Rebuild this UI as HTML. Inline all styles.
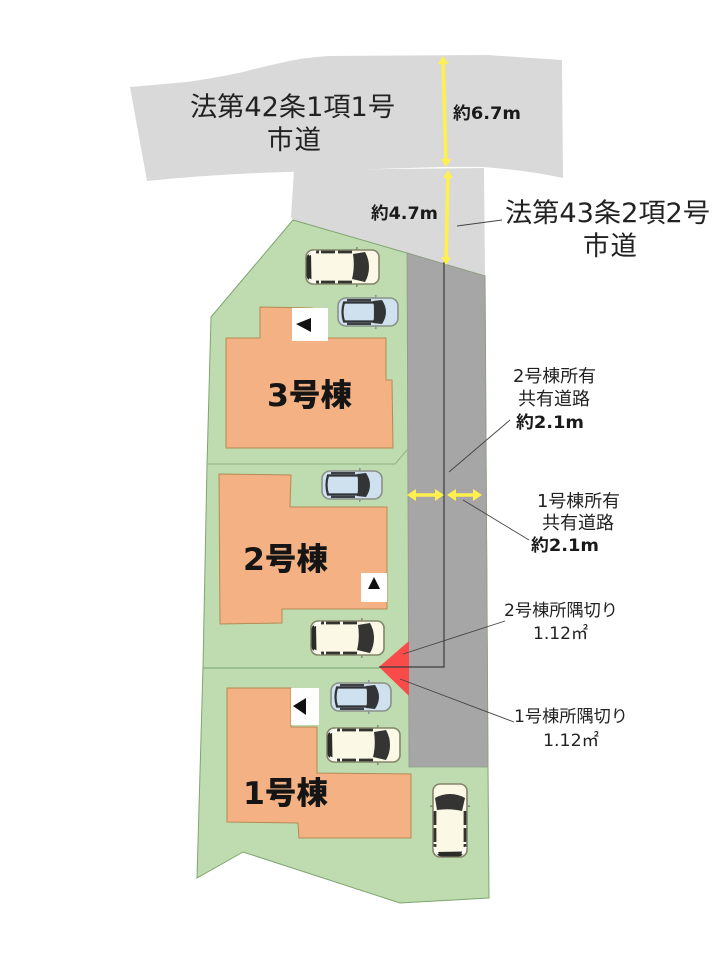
<!DOCTYPE html>
<html lang="ja">
<head>
<meta charset="utf-8">
<title>区画図</title>
<style>
html,body{margin:0;padding:0;background:#fff}
svg{display:block}
text{font-family:"DejaVu Sans","Noto Sans CJK JP",sans-serif;fill:#222}
.b{font-weight:700;fill:#1a1a1a}
.bl{font-weight:900;fill:#151515}
</style>
</head>
<body>
<svg width="719" height="959" viewBox="0 0 719 959" xmlns="http://www.w3.org/2000/svg">
<defs>
<g id="wcar">
  <rect x="51" y="-2" width="1.6" height="40" fill="#8a8a78"/>
  <rect x="1" y="1" width="73" height="34" rx="7" fill="#fbf8e6" stroke="#84846c" stroke-width="1.6"/>
  <path d="M1.5 9Q2 5 6 4L6.5 32Q2 31 1.5 27Z" fill="#2b2b28"/>
  <path d="M48 5L60 3Q64 10 64 18Q64 26 60 33L47 30Q50 18 48 5Z" fill="#343432"/>
  <path d="M11 1.6H14V4.4H11ZM16 1.6H30V4.4H16ZM33 1.6H47V4.4H33ZM11 31.6H14V34.4H11ZM16 31.6H30V34.4H16ZM33 31.6H47V34.4H33Z" fill="#33332f"/>
  <path d="M4 6L11 2M4 30L11 34" stroke="#fff" stroke-width="1.8"/>
</g>
<g id="bcar">
  <rect x="38" y="-2" width="1.6" height="34" fill="#8a98a5"/>
  <rect x="1" y="1" width="60" height="28" rx="8" fill="#cfe0ef" stroke="#8c9088" stroke-width="1.6"/>
  <path d="M7 5.5H38V24.5H7Q4 15 7 5.5Z" fill="#cfe0ef" stroke="#2f3236" stroke-width="2.2"/>
  <path d="M36 4L45 3Q49 9 49 15Q49 21 45 27L36 26Q39 15 36 4Z" fill="#333436"/>
  <path d="M10 2H34V4.2H10ZM10 25.8H34V28H10Z" fill="#3d4146"/>
</g>
</defs>

<!-- roads -->
<path d="M130 87L187 82Q215 78 243 72Q262 67 280 63Q305 57 330 56L487 55L562 60L563 178Q525 170 483 167L440 167L287 172Q215 174 147 181Z" fill="#d9d9d9"/>
<path d="M294 170L484 168L485 276L407 253L293 220L291 217Z" fill="#d9d9d9"/>

<!-- lot -->
<path d="M293 220L407 253L485 276L488 767L489 898L400 903L243 852L197 878L203 667L207 465L211 317Z" fill="#bedcaf" stroke="#7fa570" stroke-width="1"/>
<path d="M407 253L485 276L488 767L409 767Z" fill="#a6a6a6" stroke="#8f9a88" stroke-width="0.8"/>
<path d="M208 464H395L407 450" fill="none" stroke="#8fb480" stroke-width="1"/>
<path d="M203 668H379" fill="none" stroke="#7fa570" stroke-width="1"/>

<!-- buildings -->
<g fill="#f4b183" stroke="#b58a55" stroke-width="1">
<path d="M260 307L312 308V338H386V380H392L393 448H226V338H260Z"/>
<path d="M219 474L291 475L290 507H387V609H282V623L220 624Z"/>
<path d="M227 688H291V727H317V773L411 774V838H299L298 823L227 822Z"/>
</g>

<!-- white arrow boxes -->
<rect x="292" y="308" width="36" height="33" fill="#fff"/>
<path d="M296 324L311 318V332Z" fill="#111"/>
<rect x="361" y="573" width="26" height="29" fill="#fff"/>
<path d="M374 577L380 589H368Z" fill="#111"/>
<rect x="291" y="688" width="28" height="37" fill="#fff"/>
<path d="M293 706L306 698V715Z" fill="#111"/>

<!-- red corner -->
<path d="M379 667L409 641V696Z" fill="#fa4b4b"/>

<!-- center line -->
<path d="M444 262V667H379" fill="none" stroke="#3c3c3c" stroke-width="1.2"/>

<!-- cars -->
<use href="#wcar" transform="translate(305,249)"/>
<use href="#bcar" transform="translate(337,297)"/>
<use href="#bcar" transform="translate(321,470)"/>
<use href="#wcar" transform="translate(310,620)"/>
<use href="#bcar" transform="translate(330,682)"/>
<use href="#wcar" transform="translate(326,727)"/>
<use href="#wcar" transform="translate(432,858) rotate(-90)"/>

<!-- yellow dimension arrows -->
<g fill="none" stroke="#fff04d" stroke-width="3.6">
<path d="M443 60L446 163"/>
<path d="M448 174L446 261"/>
<path d="M412 495H439"/>
<path d="M451 495H477"/>
</g>
<g fill="#fff04d">
<path d="M443 56L448 64H438Z"/>
<path d="M446 167L451 159H441Z"/>
<path d="M448 170L453 178H443Z"/>
<path d="M446 265L451 257H441Z"/>
<path d="M407 495L416 489V501Z"/>
<path d="M444 495L435 489V501Z"/>
<path d="M447 495L456 489V501Z"/>
<path d="M482 495L473 489V501Z"/>
</g>

<!-- leaders -->
<g fill="none" stroke="#444" stroke-width="0.9">
<path d="M457 226L502 220"/>
<path d="M510 420L449 472"/>
<path d="M463 500L529 540"/>
<path d="M403 654L505 621"/>
<path d="M400 679L514 722"/>
</g>

<!-- labels -->
<text x="190" y="116" font-size="26.5" textLength="205" lengthAdjust="spacingAndGlyphs">法第42条1項1号</text>
<text x="267" y="149" font-size="26.5" textLength="54">市道</text>
<text x="505" y="222" font-size="26.5" textLength="205" lengthAdjust="spacingAndGlyphs">法第43条2項2号</text>
<text x="583" y="255" font-size="26.5" textLength="54">市道</text>

<text class="b" x="453" y="119" font-size="17" textLength="68" lengthAdjust="spacingAndGlyphs">約6.7m</text>
<text class="b" x="371" y="219" font-size="17" textLength="67" lengthAdjust="spacingAndGlyphs">約4.7m</text>

<text x="513" y="382" font-size="17.5" textLength="83" lengthAdjust="spacingAndGlyphs">2号棟所有</text>
<text x="518" y="405" font-size="18" textLength="72" lengthAdjust="spacingAndGlyphs">共有道路</text>
<text class="b" x="516" y="428" font-size="17" textLength="68" lengthAdjust="spacingAndGlyphs">約2.1m</text>

<text x="537" y="507" font-size="17.5" textLength="83" lengthAdjust="spacingAndGlyphs">1号棟所有</text>
<text x="542" y="529" font-size="18" textLength="72" lengthAdjust="spacingAndGlyphs">共有道路</text>
<text class="b" x="531" y="551" font-size="17" textLength="68" lengthAdjust="spacingAndGlyphs">約2.1m</text>

<text x="504" y="616" font-size="17" textLength="114" lengthAdjust="spacingAndGlyphs">2号棟所隅切り</text>
<text x="533" y="639" font-size="17" textLength="55" lengthAdjust="spacingAndGlyphs">1.12㎡</text>
<text x="514" y="722" font-size="17" textLength="114" lengthAdjust="spacingAndGlyphs">1号棟所隅切り</text>
<text x="543" y="746" font-size="17" textLength="56" lengthAdjust="spacingAndGlyphs">1.12㎡</text>

<text class="bl" x="267" y="406" font-size="31" textLength="85" lengthAdjust="spacingAndGlyphs">3号棟</text>
<text class="bl" x="243" y="570" font-size="31" textLength="85" lengthAdjust="spacingAndGlyphs">2号棟</text>
<text class="bl" x="243" y="804" font-size="31" textLength="85" lengthAdjust="spacingAndGlyphs">1号棟</text>
</svg>
</body>
</html>
